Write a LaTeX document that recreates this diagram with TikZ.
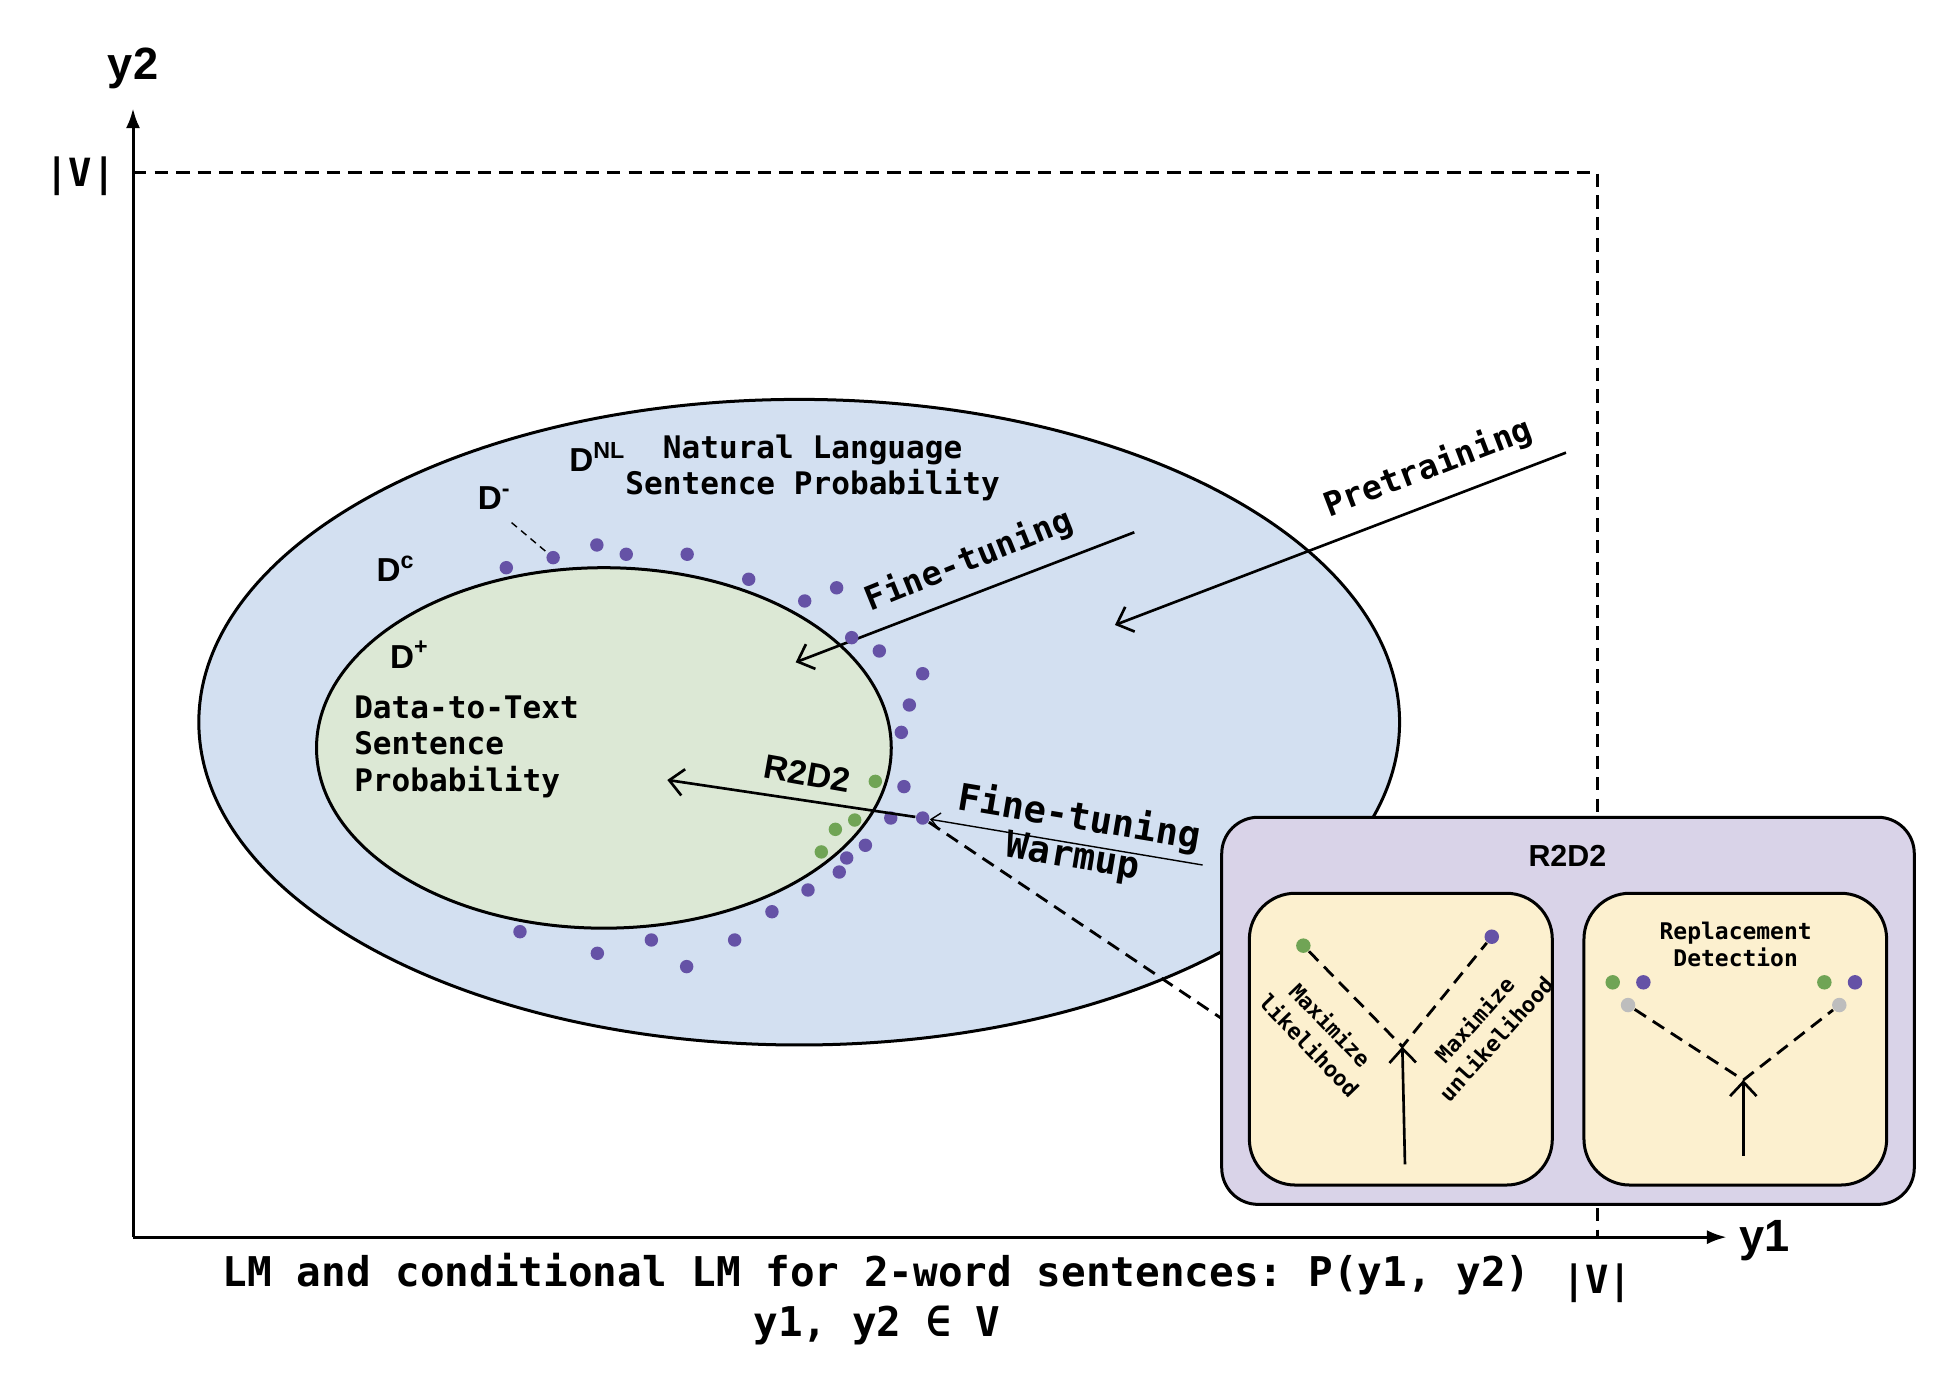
\documentclass[tikz,border=0pt]{standalone}
\usepackage{fontspec}
\setmainfont{Liberation Sans}
\setsansfont{Liberation Sans}
\setmonofont{DejaVu Sans Mono}
\usepackage{tikz}
\usetikzlibrary{arrows.meta,positioning}

\definecolor{nlblue}{HTML}{D3E0F1}
\definecolor{dtgreen}{HTML}{DCE8D5}
\definecolor{boxpurple}{HTML}{D9D3E8}
\definecolor{boxyellow}{HTML}{FCF0CF}
\definecolor{negdot}{HTML}{6552A6}
\definecolor{posdot}{HTML}{70A455}
\definecolor{repdot}{HTML}{BDBDBD}

\tikzset{smalldot/.style={circle,fill=#1,inner sep=0,minimum size=3.8pt},
    monotext/.style={font=\ttfamily\bfseries\fontsize{#1}{#1}\selectfont},
    sanstext/.style={font=\sffamily\bfseries\fontsize{#1}{#1}\selectfont},
    dashy/.style={dash pattern=on 3.8pt off 2.3pt,line width=0.8pt},
    flow/.style={-{Straight Barb[length=4pt,width=7.5pt]},line width=0.75pt},
    roundbox/.style={draw,line width=0.85pt,rounded corners=13pt,fill=boxyellow}}

\begin{document}
\begin{tikzpicture}[x=0.0125cm,y=-0.0125cm,
    axis/.style={-{Latex[length=5.6pt,width=4pt]},line width=0.85pt}]

\useasboundingbox (0,0) rectangle (1560.5,1103.5);

% sentence space

\coordinate (origin) at (105.9,985);
\coordinate (ytop) at (105.9,86.3);
\coordinate (xend) at (1374.7,985);
\coordinate (vv) at (1271.7,137.5);

\draw [dashy] (origin |- vv) -- (vv) -- (vv |- origin);
\draw [axis] (origin) -- (ytop);
\draw [axis] (origin) -- (xend);

\node (ylab) [sanstext=12.8,anchor=base] at (106,63.7) {y2};
\node (xlab) [sanstext=12.8,anchor=base] at (1405,996.6) {y1};
\node (vtop) [monotext=11] at (64,140) {|V|};
\node (vright) [monotext=11] at (1271.7,1022) {|V|};

\node (cap1) [monotext=11.6,anchor=base] at (698,1024.4) {LM and conditional LM for 2-word sentences: P(y1, y2)};
\node (cap2) [monotext=11.6,anchor=base] at (698,1064.2) {y1, y2 ∈ V};

% probability regions

\draw [line width=0.85pt,fill=nlblue] (636.3,575) ellipse [x radius=478, y radius=257];
\draw [line width=0.85pt,fill=dtgreen] (480.8,595.5) ellipse [x radius=228.8, y radius=143.5];

\node (dnl) [sanstext=9.4,anchor=base west,inner xsep=0] at (452.8,375.5) {D\textsuperscript{NL}};
\node (dminus) [sanstext=9.4,anchor=base west,inner xsep=0] at (380,406) {D\textsuperscript{-}};
\node (dcomp) [sanstext=9.4,anchor=base west,inner xsep=0] at (299.3,463.1) {D\textsuperscript{c}};
\node (dplus) [sanstext=9.4,anchor=base west,inner xsep=0] at (310,532.1) {D\textsuperscript{+}};

\node (nl1) [monotext=8.8,anchor=base] at (647,364.9) {Natural Language};
\node (nl2) [monotext=8.8,anchor=base] at (647,394.1) {Sentence Probability};

\foreach \y/\line [count=\i] in {571.9/Data-to-Text, 601.1/Sentence, 630.3/Probability}
    \node (dt\i) [monotext=8.8,anchor=base west,inner xsep=0] at (281.5,\y) {\line};

% training signals

\coordinate (pretrainstart) at (1246.8,360.4);
\coordinate (pretraintip) at (887.7,497.6);
\coordinate (finestart) at (903.1,423.8);
\coordinate (finetip) at (633.5,527.3);

\draw [flow] (pretrainstart) -- (pretraintip);
\draw [flow] (finestart) -- (finetip);

\node (pretrainlab) [monotext=9.4,rotate=21] at (1137.2,372.9) {Pretraining};
\node (finelab) [monotext=9.4,rotate=22] at (771.5,446.4) {Fine-tuning};

% sentence samples

\foreach \x/\y [count=\i] in {
  403.1/452, 440.4/444, 475.2/433.9, 498.6/441.3, 547.1/441.3,
  596.1/461.2, 640.7/478.5, 666.1/468, 678.1/507.7, 700.1/518.3,
  734.6/536.4, 724/561.3, 717.6/583.1, 719.7/626.3, 709.2/651.3,
  734.6/651.3, 689/673, 674.1/683.1, 668.2/694.3, 643.3/708.6,
  614.6/725.9, 584.9/748.4, 546.7/769.6, 518.6/748.4, 475.6/759,
  414/741.8}
    \node (neg\i) [smalldot=negdot] at (\x,\y) {};

\foreach \x/\y [count=\i] in {696.9/622.1, 680.5/652.9, 665.1/660.3, 653.9/678.3}
    \node (pos\i) [smalldot=posdot] at (\x,\y) {};

\coordinate (dminusfoot) at (407.3,416.1);
\draw [dash pattern=on 2pt off 1.5pt,line width=0.4pt] (dminusfoot) -- (neg2);

% r2d2 and warmup

\coordinate (r2d2tip) at (531.3,621);
\coordinate (warmupstart) at (957.5,688.7);
\coordinate (boxentry) at (972.7,811);

\draw [flow] (neg16) -- (r2d2tip);
\draw [-{Straight Barb[length=2.5pt,width=4.5pt]},line width=0.4pt] (warmupstart) -- (neg16);
\draw [dashy] (neg16) -- (boxentry);

\node (r2d2lab) [sanstext=9.6,rotate=-10] at (643,616) {R2D2};
\node (warm1) [monotext=10.5,rotate=-9.5] at (859.1,651.5) {Fine-tuning};
\node (warm2) [monotext=10.5,rotate=-9.5] at (854,683.4) {Warmup};

% r2d2 box

\draw [line width=0.85pt,fill=boxpurple,rounded corners=10.3pt] (972.7,650.7) rectangle (1524.1,958.9);
\node (boxtitle) [sanstext=8.6] at (1247.9,681.5) {R2D2};

\draw [roundbox] (994.7,711.2) rectangle (1235.9,943.5);
\draw [roundbox] (1261.1,711.2) rectangle (1502.1,943.5);

\node (likepos) [smalldot=posdot,minimum size=4.1pt] at (1037.7,752.9) {};
\node (likeneg) [smalldot=negdot,minimum size=4.1pt] at (1187.7,745.8) {};
\coordinate (likefork) at (1116.5,833.3);
\coordinate (likefoot) at (1118.6,927);

\draw [dashy] (likepos) -- (likefork) -- (likeneg);
\draw [flow] (likefoot) -- (likefork);

\node (maxlike) [rotate=-46,align=center,font=\ttfamily\bfseries\fontsize{6.2}{8.2}\selectfont] at (1051,824) {Maximize\\likelihood};
\node (maxunlike) [rotate=48,align=center,font=\ttfamily\bfseries\fontsize{6.2}{8.2}\selectfont] at (1182.3,819.3) {Maximize\\unlikelihood};

\node (rep1) [monotext=6.5,anchor=base] at (1381.9,748.4) {Replacement};
\node (rep2) [monotext=6.5,anchor=base] at (1381.9,769.7) {Detection};

\node (reppos1) [smalldot=posdot,minimum size=4.1pt] at (1284,782.1) {};
\node (repneg1) [smalldot=negdot,minimum size=4.1pt] at (1308.4,782.1) {};
\node (repgrey1) [smalldot=repdot,minimum size=4.1pt] at (1296.2,800.2) {};
\node (reppos2) [smalldot=posdot,minimum size=4.1pt] at (1452.5,782.1) {};
\node (repneg2) [smalldot=negdot,minimum size=4.1pt] at (1476.9,782.1) {};
\node (repgrey2) [smalldot=repdot,minimum size=4.1pt] at (1464.4,800.2) {};
\coordinate (repfork) at (1388,859.9);
\coordinate (repfoot) at (1388,920.1);

\draw [dashy] (repgrey1) -- (repfork) -- (repgrey2);
\draw [flow] (repfoot) -- (repfork);

\end{tikzpicture}
\end{document}
